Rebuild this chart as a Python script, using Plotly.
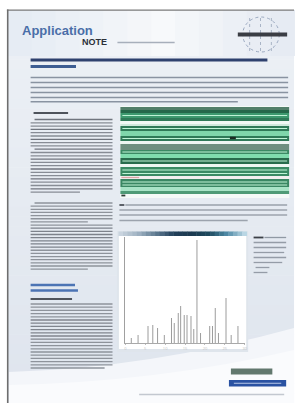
import plotly.graph_objects as go

# ---------------- data (chromatogram in Figure) ----------------
peak_times = [1.5, 3.2, 5.7, 6.9, 8.1, 9.8, 11.6, 12.3, 13.3, 13.9, 14.8, 15.5,
              16.5, 17.2, 18.0, 18.9, 21.2, 21.9, 22.6, 23.4, 25.3, 26.6, 28.3]
peak_heights = [5, 8, 17, 18, 15, 8, 25, 20, 30, 37, 28, 28,
                27, 14, 103, 10, 17, 17, 35, 10, 45, 8, 17]
x_tick_vals = [0, 5, 10, 15, 20, 25, 30]
y_tick_vals = [0, 20, 40, 60, 80, 100]

W, H = 301, 403
shapes = []


def px(x):
    return x / W


def py(y):
    return 1 - y / H


def rect(x0, y0, x1, y1, color, layer="below"):
    shapes.append(dict(type="rect", xref="paper", yref="paper",
                       x0=px(x0), x1=px(x1), y0=py(y1), y1=py(y0),
                       fillcolor=color, layer=layer, line=dict(width=0)))


def tline(x0, x1, y, color="#8d929b", h=1.3):
    rect(x0, y - h / 2, x1, y + h / 2, color)


def lerp(c1, c2, t):
    a = [int(c1[i:i + 2], 16) for i in (1, 3, 5)]
    b = [int(c2[i:i + 2], 16) for i in (1, 3, 5)]
    return "#%02x%02x%02x" % tuple(int(a[k] + (b[k] - a[k]) * t) for k in range(3))


# ---------------- page background ----------------
rect(0, 0, W, H, "#ffffff")
for i in range(40):
    y0 = 10 + i * (H - 10) / 40
    y1 = 10 + (i + 1) * (H - 10) / 40
    t = i / 39
    rect(7, y0, 297, y1 + 0.5, lerp("#edf1f6", "#dfe5ee", t))
for i in range(12):
    rect(7 + i * 24.2, 10, 7 + (i + 1) * 24.2 + 0.5, 56,
         lerp("#e6ecf4", "#f7f9fb", min(1, i / 6)) if i < 7 else lerp("#f7f9fb", "#e6ebf3", (i - 6) / 5))
shapes.append(dict(type="path", xref="paper", yref="paper", layer="below",
                   path="M %f,%f Q %f,%f %f,%f L %f,%f L %f,%f Z" % (
                       px(8), py(372), px(150), py(368), px(297), py(328),
                       px(297), py(H), px(8), py(H)),
                   fillcolor="#f4f6fa", line=dict(width=0)))
shapes.append(dict(type="path", xref="paper", yref="paper", layer="below",
                   path="M %f,%f Q %f,%f %f,%f L %f,%f L %f,%f Z" % (
                       px(8), py(385), px(160), py(382), px(297), py(350),
                       px(297), py(H), px(8), py(H)),
                   fillcolor="#fafbfd", line=dict(width=0)))
rect(6, 9.5, 297, 10.8, "#7a7a7a")
rect(6, 9.5, 7.6, H, "#6e6e6e")

# ---------------- header logo (top right) ----------------
shapes.append(dict(type="circle", xref="paper", yref="paper", layer="below",
                   x0=px(245), x1=px(282), y0=py(52), y1=py(17),
                   line=dict(color="#9aa8c0", width=1, dash="dot")))
for xx in (252, 263, 274):
    shapes.append(dict(type="line", xref="paper", yref="paper", layer="below",
                       x0=px(xx), x1=px(xx), y0=py(18), y1=py(52),
                       line=dict(color="#a9b4c6", width=1, dash="dot")))
rect(240, 32.5, 290, 36.5, "#3a3d44")

# title + abstract
tline(30, 270, 60, "#2e416e", 3.2)
tline(30, 76, 66.5, "#3d5d92", 3.2)
for y, x1 in [(77.5, 291), (82.5, 291), (87.5, 291), (92.5, 291), (97.5, 291), (101.8, 240)]:
    tline(30, x1, y, "#8993a1", 1.6)

# ---------------- left column text ----------------
tline(33, 68, 113, "#4e535b", 2.0)
left_para1 = 23
for i in range(left_para1):
    x1 = 113 if i < left_para1 - 1 else 80
    x0 = 34 if i in (0, 9) else 30
    tline(x0, x1, 119.5 + i * 3.3, "#878c95" if i % 3 else "#70757e", 1.3)
for i in range(22):
    x1 = 113 if i not in (6, 21) else 88
    tline(30 if i else 34, x1, 203 + i * 3.15, "#7d828b" if 7 < i < 15 else "#8e939b", 1.3)
tline(30, 75, 285, "#4c74b4", 2.6)
tline(30, 78, 290.5, "#4c74b4", 2.6)
tline(30, 72, 299, "#50555d", 1.8)
for i in range(21):
    x1 = 113 if i != 20 else 105
    tline(30, x1, 304 + i * 3.2, "#80858e" if 4 < i < 12 else "#8e939b", 1.3)

# ---------------- green table ----------------
rect(121, 106, 292, 198, "#f4faf7")
table_rows = [(107, 110, "#527f6a"), (110, 113, "#25684a"), (113, 118, "#3d9a6f"),
              (118, 121, "#2f7a58"), (121, 124, "#f0f8f4"), (124, 126, "#cfe9dc"),
              (126, 131, "#2f7a58"), (131, 136, "#7fd6ab"), (136, 141, "#2f7a58"),
              (141, 144, "#eef6f2"), (144, 150, "#6e8f7f"), (150, 154, "#3b8a64"),
              (154, 158, "#80dcae"), (158, 164, "#286b4c"), (164, 167, "#eef6f2"),
              (167, 176, "#3a8a64"), (176, 179, "#f2efef"), (179, 187, "#3a8763"),
              (187, 191, "#a8e3c6"), (191, 194, "#4f9a76"), (194, 198, "#f5f9f7")]
for y0, y1, c in table_rows:
    rect(121, y0, 292, y1, c)
for yy in (115.5, 128.5, 138.5, 152, 161, 170, 173.5, 182, 185):
    tline(123, 290, yy, "#bff3d6", 0.9)
tline(232, 238, 138, "#1b2a22", 2.5)
tline(122, 140, 177.5, "#d9a5a5", 1.2)
tline(122, 126, 195.5, "#2d3d35", 1.8)

# table caption
tline(120, 125, 205, "#3a3f46", 1.6)
tline(126, 290, 205, "#99a0aa", 1.3)
for yy, x1 in [(210, 290), (215, 290), (220.5, 250)]:
    tline(120, x1, yy, "#9ca3ad", 1.3)

# ---------------- figure frame ----------------
rect(117.5, 231, 250.5, 352, "#dfe5ec")
rect(119.5, 236, 248.5, 349, "#ffffff")
stops = ["#c9d4df", "#9fb2c2", "#5e7a90", "#22405a", "#1c3a50", "#1e4a5e", "#4f8aa6", "#b9d6e4"]
nseg = 28
for i in range(nseg):
    t = i / (nseg - 1) * (len(stops) - 1)
    k = min(int(t), len(stops) - 2)
    c = lerp(stops[k], stops[k + 1], t - k)
    x0 = 119 + i * (130 / nseg)
    rect(x0, 231.5, x0 + 130 / nseg + 0.4, 236, c)

# right caption of figure
tline(256, 266, 237.5, "#3c4047", 1.8)
tline(267, 289, 237.5, "#9099a4", 1.3)
for yy, x0, x1 in [(242.5, 256, 289), (247.5, 256, 289), (252.5, 256, 287), (257.5, 256, 289),
                   (262.5, 256, 285), (267.5, 258, 272), (272.5, 256, 270)]:
    tline(x0, x1, yy, "#959ca7", 1.3)

# ---------------- bottom right logo ----------------
tline(233, 275, 371.5, "#62786e", 6.0)
rect(231, 380, 289, 386.5, "#2a52a2")
tline(236, 284, 383.2, "#b8c8e8", 1.0)
tline(140, 287, 394.5, "#c3c8d0", 1.3)

# ---------------- chromatogram trace ----------------
xs, ys = [], []
for t, h in zip(peak_times, peak_heights):
    xs += [t, t, None]
    ys += [0, h, None]

fig = go.Figure()
fig.add_trace(go.Scatter(x=xs, y=ys, mode="lines",
                         line=dict(color="#9c9c9c", width=1),
                         hoverinfo="skip", showlegend=False))

fig.add_annotation(text="<b>Application</b>", x=px(19), y=py(30), xref="paper", yref="paper",
                   xanchor="left", yanchor="middle", showarrow=False,
                   font=dict(family="Liberation Sans", size=13, color="#4a6ea8"))
fig.add_annotation(text="<b>NOTE</b>", x=px(80), y=py(42.5), xref="paper", yref="paper",
                   xanchor="left", yanchor="middle", showarrow=False,
                   font=dict(family="Liberation Sans", size=9, color="#2b2f38"))
tline(118, 176, 42.5, "#a7afbb", 1.3)

fig.update_layout(
    width=W, height=H,
    margin=dict(l=0, r=0, t=0, b=0),
    paper_bgcolor="#ffffff",
    plot_bgcolor="rgba(0,0,0,0)",
    shapes=shapes,
    showlegend=False,
    xaxis=dict(domain=[px(126), px(247)], range=[0, 30], showgrid=False, zeroline=False,
               showline=True, linecolor="#a9a9a9", linewidth=1,
               tickvals=x_tick_vals, ticks="outside", ticklen=1, tickcolor="#bbbbbb",
               tickfont=dict(size=4, color="#c4c4c4")),
    yaxis=dict(domain=[py(343), py(237)], range=[0, 106], showgrid=False, zeroline=False,
               showline=True, linecolor="#a0a0a0", linewidth=1,
               tickvals=y_tick_vals, ticks="", showticklabels=False),
)

fig.write_html("out.html", config={"displayModeBar": False},
               post_script="document.body.style.margin='0';")
